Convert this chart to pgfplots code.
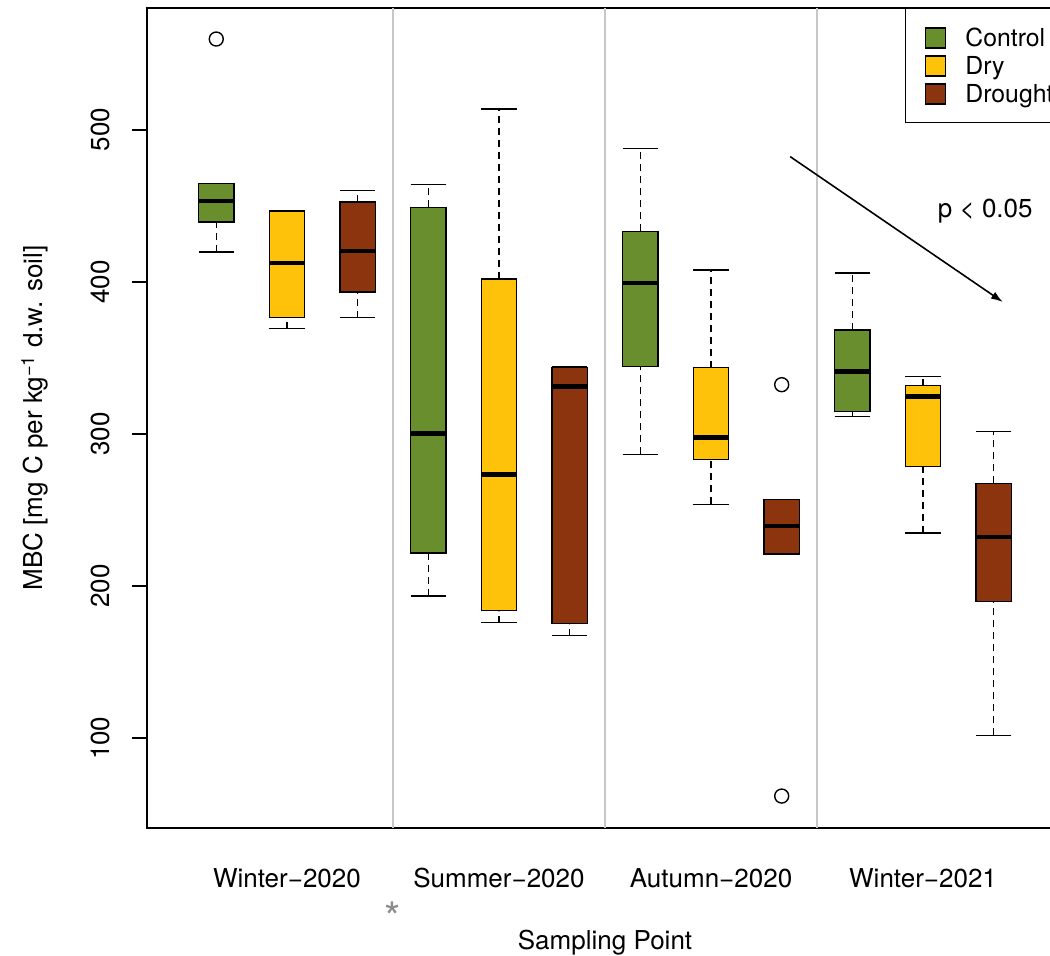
\documentclass[border=0pt]{standalone}
\usepackage{fontspec}
\setmainfont{TeX Gyre Heros}
\usepackage{pgfplots}
\pgfplotsset{compat=1.18}
\usetikzlibrary{arrows.meta}
\definecolor{ctrl}{RGB}{104,142,46}
\definecolor{dry}{RGB}{255,194,10}
\definecolor{drt}{RGB}{139,52,14}
% #1 left, #2 centre, #3 right, #4 colour, #5 lower whisker, #6 lower quartile, #7 median, #8 upper quartile, #9 upper whisker
\newcommand{\bx}[9]{%
  \addplot[black, line width=0.7pt, dash pattern=on 3.5pt off 2.5pt] coordinates {(#2,#5) (#2,#6)};
  \addplot[black, line width=0.7pt, dash pattern=on 3.5pt off 2.5pt] coordinates {(#2,#8) (#2,#9)};
  \addplot[black, line width=0.7pt] coordinates {(#1,#5) (#3,#5)};
  \addplot[black, line width=0.7pt] coordinates {(#1,#9) (#3,#9)};
  \addplot[draw=black, fill=#4, line width=0.7pt] coordinates {(#1,#6) (#3,#6) (#3,#8) (#1,#8)} -- cycle;
  \addplot[black, line width=2.3pt] coordinates {(#1,#7) (#3,#7)};
}
\begin{document}
\begin{tikzpicture}[font=\fontsize{13}{15.6}\selectfont]
\begin{axis}[
  scale only axis, width=458pt, height=410pt,
  xmin=0.02, xmax=12.98, ymin=41, ymax=580,
  clip mode=individual,
  axis line style={line width=0.9pt},
  /pgf/number format/assume math mode=true,
  xtick={2,5,8,11},
  xticklabels={Winter−2020,Summer−2020,Autumn−2020,Winter−2021},
  xtick style={draw=none},
  xticklabel style={anchor=center, yshift=-17.5pt},
  ytick={100,200,300,400,500},
  ytick pos=left, tick align=outside, major tick length=7.5pt,
  ytick style={line width=0.9pt, black},
  yticklabel style={rotate=90, anchor=center},
  yticklabel shift=16pt,
  extra x ticks={3.5,6.5,9.5},
  extra x tick labels={},
  extra x tick style={grid=major, major grid style={draw=black!22, line width=1pt}},
  xlabel={Sampling Point},
  ylabel={MBC [mg C per kg\textsuperscript{−1} d.w. soil]},
  every axis x label/.style={at={(axis description cs:0.5,-0.1403)}, anchor=center},
  every axis y label/.style={at={(axis description cs:-0.1223,0.5)}, anchor=center, rotate=90},
  legend style={at={(1,1)}, anchor=north east, draw=black, line width=0.7pt,
    inner xsep=4.4pt, inner ysep=7.4pt, font=\fontsize{12.4}{15}\selectfont,
    nodes={inner sep=0pt, anchor=base west},
    /tikz/every even column/.append style={column sep=0pt}},
  legend image code/.code={%
    \path[draw=none, fill=none] (-5.6pt,-2.3pt) rectangle (20pt,11.7pt);
    \draw[#1, line width=0.7pt] (0pt,-0.5pt) rectangle (10pt,9.5pt);},
]
\addlegendimage{fill=ctrl, draw=black}
\addlegendentry{Control}
\addlegendimage{fill=dry, draw=black}
\addlegendentry{Dry}
\addlegendimage{fill=drt, draw=black}
\addlegendentry{Drought}

% Winter-2020
\bx{0.75}{1}{1.25}{ctrl}{419.5}{439.4}{453.2}{464.6}{464.6}
\bx{1.75}{2}{2.25}{dry}{369.3}{376.7}{412.5}{446.5}{446.5}
\bx{2.75}{3}{3.25}{drt}{376.5}{393.3}{420.3}{452.4}{460.1}
% Summer-2020
\bx{3.75}{4}{4.25}{ctrl}{193.6}{221.8}{300.3}{448.9}{464.0}
\bx{4.75}{5}{5.25}{dry}{175.9}{183.8}{273.5}{401.8}{513.7}
\bx{5.75}{6}{6.25}{drt}{167.4}{175.3}{331.1}{343.5}{344.2}
% Autumn-2020
\bx{6.75}{7}{7.25}{ctrl}{286.6}{344.2}{399.2}{433.2}{487.6}
\bx{7.75}{8}{8.25}{dry}{253.8}{283.3}{297.7}{343.5}{407.7}
\bx{8.75}{9}{9.25}{drt}{221.1}{221.1}{239.4}{257.1}{257.1}
% Winter-2021
\bx{9.75}{10}{10.25}{ctrl}{311.5}{314.7}{340.9}{368.4}{405.7}
\bx{10.75}{11}{11.25}{dry}{234.9}{278.7}{324.5}{331.8}{337.6}
\bx{11.75}{12}{12.25}{drt}{102.0}{189.7}{232.2}{267.6}{301.6}

% outliers
\addplot[only marks, mark=o, mark size=3.5pt, black, line width=0.7pt]
  coordinates {(1,559.6) (9,332.4) (9,62.0)};

% trend arrow
\addplot[black, line width=0.8pt, -{Latex[length=6pt, width=4pt]}] coordinates {(9.12,482.3) (12.13,386.7)};
\node[anchor=base] at (axis cs:11.88,442.1) {p < 0.05};
\node[text=black!45, anchor=center, font=\fontsize{21}{24}\selectfont] at (axis description cs:0.2686,-0.1085) {*};
\end{axis}
\pgfresetboundingbox
\path ([shift={(-73.5pt,-63.5pt)}]current axis.south west) rectangle ++(525pt,477.5pt);
\end{tikzpicture}
\end{document}
